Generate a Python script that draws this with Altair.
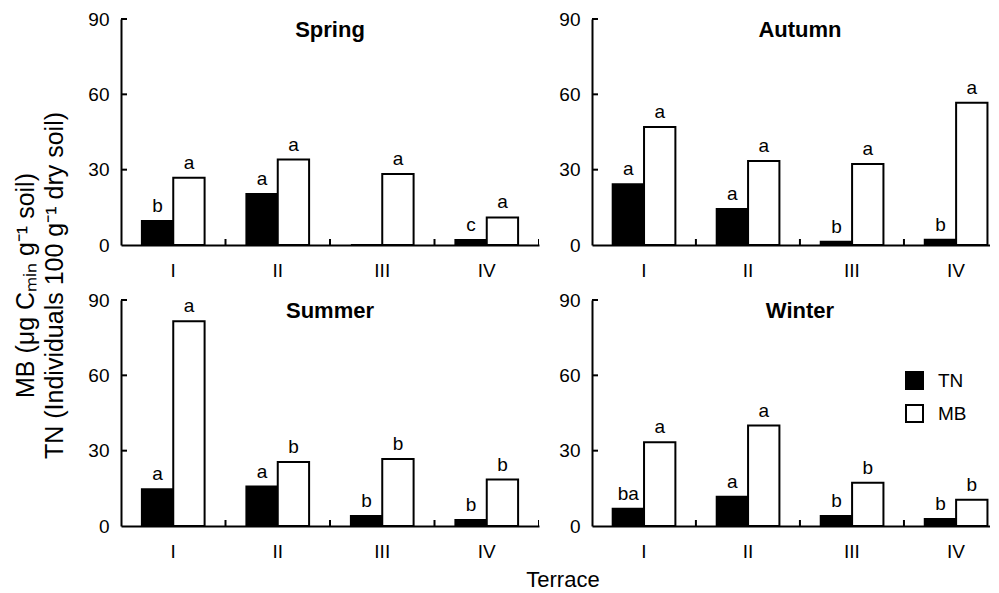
import altair as alt
import pandas as pd

FONT = "Liberation Sans"

seasons = ["Spring", "Autumn", "Summer", "Winter"]
terraces = ["I", "II", "III", "IV"]
series = ["TN", "MB"]

# TN (black) and MB (white) values per season, terraces I..IV
tn_spring = [9.6, 20.3, 0.0, 2.0]
mb_spring = [26.8, 34.0, 28.3, 11.0]
tn_autumn = [24.2, 14.3, 1.3, 2.1]
mb_autumn = [47.0, 33.5, 32.3, 56.6]
tn_summer = [14.6, 15.7, 4.0, 2.4]
mb_summer = [81.5, 25.5, 26.7, 18.5]
tn_winter = [6.9, 11.6, 4.0, 2.8]
mb_winter = [33.4, 40.0, 17.2, 10.5]

# significance letters
tn_spring_l = ["b", "a", "", "c"]
mb_spring_l = ["a", "a", "a", "a"]
tn_autumn_l = ["a", "a", "b", "b"]
mb_autumn_l = ["a", "a", "a", "a"]
tn_summer_l = ["a", "a", "b", "b"]
mb_summer_l = ["a", "b", "b", "b"]
tn_winter_l = ["ba", "a", "b", "b"]
mb_winter_l = ["a", "a", "b", "b"]

y_ticks = [0, 30, 60, 90]
inner_y_ticks = [30, 60, 90]
band_edges = [1, 2, 3, 4]

data = {
    "Spring": (tn_spring, mb_spring, tn_spring_l, mb_spring_l),
    "Autumn": (tn_autumn, mb_autumn, tn_autumn_l, mb_autumn_l),
    "Summer": (tn_summer, mb_summer, tn_summer_l, mb_summer_l),
    "Winter": (tn_winter, mb_winter, tn_winter_l, mb_winter_l),
}

H = 226
P_INNER = 0.4


def panel(season, width, outer, align, legend=None):
    tn, mb, tnl, mbl = data[season]
    rows = []
    for i, t in enumerate(terraces):
        rows.append({"terrace": t, "series": "TN", "value": tn[i], "letter": tnl[i]})
        rows.append({"terrace": t, "series": "MB", "value": mb[i], "letter": mbl[i]})
    df = pd.DataFrame(rows)

    step = width / (len(terraces) - P_INNER + 2 * outer)
    left_gap = align * 2 * outer * step - P_INNER * step / 2

    xscale = alt.Scale(domain=terraces, paddingInner=P_INNER, paddingOuter=outer,
                       align=align)
    yscale = alt.Scale(domain=[0, 90], nice=False, zero=True)
    yaxis = alt.Axis(values=y_ticks, labelPadding=12, ticks=False, tickSize=0,
                     grid=False, domainColor="black", domainWidth=2,
                     labelFont=FONT, labelFontSize=19, labelColor="black")
    xoff = alt.XOffset("series:N", sort=series,
                       scale=alt.Scale(domain=series, paddingInner=0, paddingOuter=0))

    bars = alt.Chart(df).mark_bar(stroke="black", strokeWidth=2).encode(
        x=alt.X("terrace:N", sort=terraces, scale=xscale, title=None,
                axis=alt.Axis(labelAngle=0, labelPadding=16, ticks=False, tickSize=0,
                              domainColor="black", domainWidth=2, labelFont=FONT,
                              labelFontSize=19, labelColor="black")),
        xOffset=xoff,
        y=alt.Y("value:Q", scale=yscale, axis=yaxis, title=None),
        fill=alt.Fill("series:N", sort=series,
                      scale=alt.Scale(domain=series, range=["black", "white"]),
                      legend=legend),
    )
    letters = alt.Chart(df).mark_text(font=FONT, fontSize=19, baseline="alphabetic",
                                      dy=-9, color="black").encode(
        x=alt.X("terrace:N", sort=terraces, scale=xscale, axis=None),
        xOffset=xoff,
        y=alt.Y("value:Q", scale=yscale, axis=yaxis, title=None),
        text="letter:N",
    )
    yt = alt.Chart(pd.DataFrame({"t": inner_y_ticks})).mark_rule(
        color="black", strokeWidth=2).encode(
        y=alt.Y("t:Q", scale=yscale, axis=yaxis, title=None),
        x=alt.value(0), x2=alt.value(6),
    )
    lo = -left_gap / step
    xt = alt.Chart(pd.DataFrame({"b": band_edges})).mark_rule(
        color="black", strokeWidth=2, clip=True).encode(
        x=alt.X("b:Q", scale=alt.Scale(domain=[lo, lo + width / step], nice=False,
                                       zero=False), axis=None),
        y=alt.value(H), y2=alt.value(H - 6),
    )
    ttl = alt.Chart(pd.DataFrame({"s": [season]})).mark_text(
        font=FONT, fontSize=22, fontWeight="bold", baseline="alphabetic",
        color="black").encode(
        x=alt.value(left_gap + 2 * step), y=alt.value(18), text="s:N")

    return alt.layer(bars, letters, yt, xt, ttl).resolve_scale(
        x="independent").properties(width=width, height=H)


legend = alt.Legend(orient="none", legendX=313, legendY=71, title=None, padding=0,
                    symbolType="square", symbolSize=289, symbolStrokeColor="black",
                    symbolStrokeWidth=2, labelFont=FONT, labelFontSize=19,
                    labelColor="black", labelOffset=14, rowPadding=8)

row1 = alt.hconcat(panel("Spring", 418, 0.2, 0.5),
                   panel("Autumn", 398, 0.113, 0.88), spacing=19)
row2 = alt.hconcat(panel("Summer", 418, 0.2, 0.5),
                   panel("Winter", 398, 0.113, 0.88, legend),
                   spacing=19).resolve_legend(fill="independent")

grid = alt.vconcat(row1, row2, spacing=11).resolve_legend(fill="independent").properties(
    title=alt.TitleParams(
        text=["MB (μg Cₘᵢₙ g⁻¹ soil)", "TN (Individuals 100 g⁻¹ dry soil)"],
        orient="left", anchor="middle", font=FONT, fontSize=25,
        fontWeight="normal", color="black", lineHeight=29, offset=20))

chart = alt.vconcat(grid).resolve_legend(fill="independent").properties(
    title=alt.TitleParams(text="Terrace", orient="bottom", anchor="middle",
                          font=FONT, fontSize=22, fontWeight="normal",
                          color="black", offset=9, dx=61),
    padding={"left": 5, "top": 2, "right": 0, "bottom": 0},
).configure_view(stroke=None)

chart.save("out.html", embed_options={"renderer": "svg", "actions": False})
